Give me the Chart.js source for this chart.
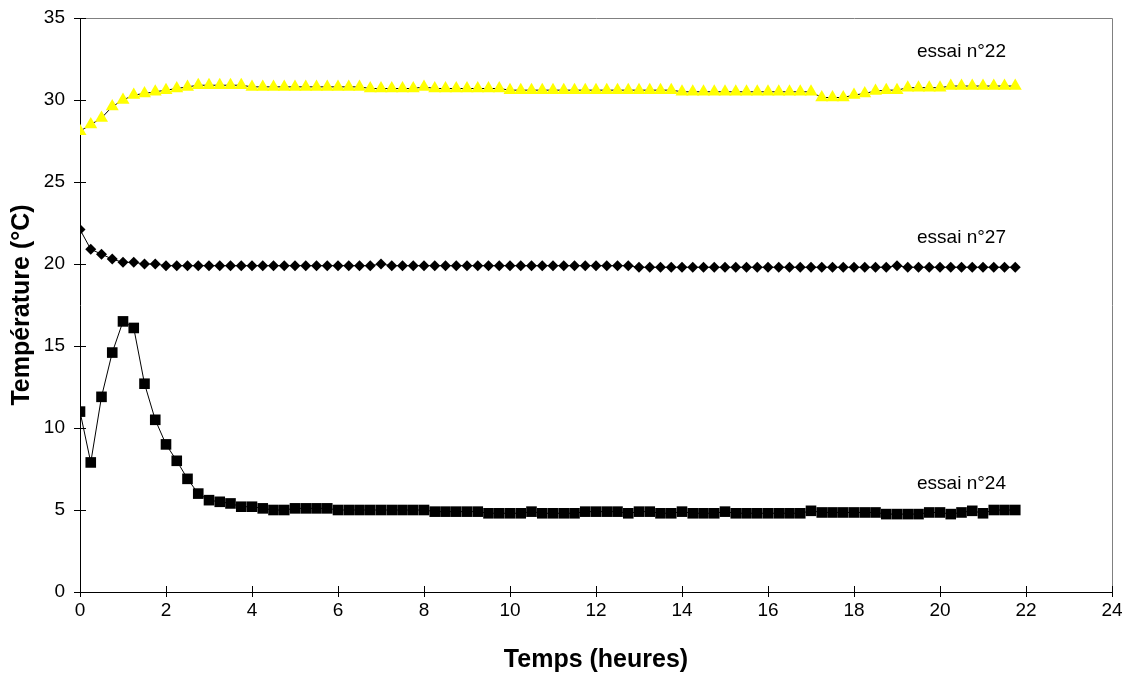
<!DOCTYPE html>
<html>
<head>
<meta charset="utf-8">
<script src="https://cdn.jsdelivr.net/npm/chart.js"></script>
<style>
    html, body { margin: 0; padding: 0; background: #fff; }
    #cadre { position: relative; width: 1133px; height: 685px; }
</style>
</head>
<body>
<div id="cadre"><canvas id="graphique"></canvas></div>
<script>
// Températures mesurées pendant les essais n°22, n°24 et n°27 (pas de 15 min).

var temps = [0, 0.25, 0.5, 0.75, 1, 1.25, 1.5, 1.75, 2, 2.25, 2.5, 2.75,
    3, 3.25, 3.5, 3.75, 4, 4.25, 4.5, 4.75, 5, 5.25, 5.5, 5.75,
    6, 6.25, 6.5, 6.75, 7, 7.25, 7.5, 7.75, 8, 8.25, 8.5, 8.75,
    9, 9.25, 9.5, 9.75, 10, 10.25, 10.5, 10.75, 11, 11.25, 11.5, 11.75,
    12, 12.25, 12.5, 12.75, 13, 13.25, 13.5, 13.75, 14, 14.25, 14.5, 14.75,
    15, 15.25, 15.5, 15.75, 16, 16.25, 16.5, 16.75, 17, 17.25, 17.5, 17.75,
    18, 18.25, 18.5, 18.75, 19, 19.25, 19.5, 19.75, 20, 20.25, 20.5, 20.75,
    21, 21.25, 21.5, 21.75];

var essai22 = [28.1, 28.5, 28.9, 29.6, 30.0, 30.3, 30.4, 30.5, 30.6, 30.7, 30.8, 30.9,
    30.9, 30.9, 30.9, 30.9, 30.8, 30.8, 30.8, 30.8, 30.8, 30.8, 30.8, 30.8,
    30.8, 30.8, 30.8, 30.7, 30.7, 30.7, 30.7, 30.7, 30.8, 30.7, 30.7, 30.7,
    30.7, 30.7, 30.7, 30.7, 30.6, 30.6, 30.6, 30.6, 30.6, 30.6, 30.6, 30.6,
    30.6, 30.6, 30.6, 30.6, 30.6, 30.6, 30.6, 30.6, 30.5, 30.5, 30.5, 30.5,
    30.5, 30.5, 30.5, 30.5, 30.5, 30.5, 30.5, 30.5, 30.5, 30.15, 30.15, 30.15,
    30.3, 30.4, 30.55, 30.6, 30.6, 30.75, 30.75, 30.75, 30.75, 30.85, 30.85, 30.85,
    30.85, 30.85, 30.85, 30.85];

var essai27 = [22.1, 20.9, 20.6, 20.3, 20.1, 20.1, 20.0, 20.0, 19.9, 19.9, 19.9, 19.9,
    19.9, 19.9, 19.9, 19.9, 19.9, 19.9, 19.9, 19.9, 19.9, 19.9, 19.9, 19.9,
    19.9, 19.9, 19.9, 19.9, 20.0, 19.9, 19.9, 19.9, 19.9, 19.9, 19.9, 19.9,
    19.9, 19.9, 19.9, 19.9, 19.9, 19.9, 19.9, 19.9, 19.9, 19.9, 19.9, 19.9,
    19.9, 19.9, 19.9, 19.9, 19.8, 19.8, 19.8, 19.8, 19.8, 19.8, 19.8, 19.8,
    19.8, 19.8, 19.8, 19.8, 19.8, 19.8, 19.8, 19.8, 19.8, 19.8, 19.8, 19.8,
    19.8, 19.8, 19.8, 19.8, 19.9, 19.8, 19.8, 19.8, 19.8, 19.8, 19.8, 19.8,
    19.8, 19.8, 19.8, 19.8];

var essai24 = [11.0, 7.9, 11.9, 14.6, 16.5, 16.1, 12.7, 10.5, 9.0, 8.0, 6.9, 6.0,
    5.6, 5.5, 5.4, 5.2, 5.2, 5.1, 5.0, 5.0, 5.1, 5.1, 5.1, 5.1,
    5.0, 5.0, 5.0, 5.0, 5.0, 5.0, 5.0, 5.0, 5.0, 4.9, 4.9, 4.9,
    4.9, 4.9, 4.8, 4.8, 4.8, 4.8, 4.9, 4.8, 4.8, 4.8, 4.8, 4.9,
    4.9, 4.9, 4.9, 4.8, 4.9, 4.9, 4.8, 4.8, 4.9, 4.8, 4.8, 4.8,
    4.9, 4.8, 4.8, 4.8, 4.8, 4.8, 4.8, 4.8, 4.95, 4.85, 4.85, 4.85,
    4.85, 4.85, 4.85, 4.75, 4.75, 4.75, 4.75, 4.85, 4.85, 4.75, 4.85, 4.95,
    4.8, 5.0, 5.0, 5.0];

var nomsEssais = ['essai n°22', 'essai n°27', 'essai n°24'];

// Position des étiquettes (en unités des axes : heures, °C).
var etiquettesX = [20.5, 20.5, 20.5];
var etiquettesY = [32.95, 21.6, 6.6];

var police = "'Liberation Sans', Arial, sans-serif";

// Construit les points {x, y} d'une série.
function points(valeurs) {
    var res = [];
    for (var i = 0; i < temps.length; i++) {
        res.push({ x: temps[i], y: valeurs[i] });
    }
    return res;
}

// Dessine le cadre gris, les graduations en croix et les étiquettes des essais.
var decor = {
    id: 'decor',
    afterDatasetsDraw: function (chart) {
        var ctx = chart.ctx;
        var zone = chart.chartArea;
        var sx = chart.scales.x;
        var sy = chart.scales.y;

        ctx.save();
        ctx.strokeStyle = '#808080';
        ctx.lineWidth = 1;
        ctx.beginPath();
        ctx.moveTo(zone.left, zone.top + 0.5);
        ctx.lineTo(zone.right + 0.5, zone.top + 0.5);
        ctx.lineTo(zone.right + 0.5, zone.bottom);
        ctx.stroke();

        ctx.strokeStyle = '#000';
        ctx.beginPath();
        sy.ticks.forEach(function (t) {
            var py = Math.round(sy.getPixelForValue(t.value)) + 0.5;
            ctx.moveTo(zone.left - 6, py);
            ctx.lineTo(zone.left + 6, py);
        });
        sx.ticks.forEach(function (t) {
            var px = Math.round(sx.getPixelForValue(t.value)) + 0.5;
            ctx.moveTo(px, zone.bottom - 6);
            ctx.lineTo(px, zone.bottom + 5);
        });
        ctx.stroke();

        ctx.fillStyle = '#000';
        ctx.font = '19px ' + police;
        ctx.textAlign = 'center';
        ctx.textBaseline = 'middle';
        for (var i = 0; i < nomsEssais.length; i++) {
            ctx.fillText(nomsEssais[i], sx.getPixelForValue(etiquettesX[i]),
                sy.getPixelForValue(etiquettesY[i]));
        }
        ctx.restore();
    }
};

function serie(nom, valeurs, forme, rayon, couleur) {
    return {
        label: nom,
        data: points(valeurs),
        borderColor: '#000',
        borderWidth: 1,
        tension: 0,
        pointStyle: forme,
        pointRadius: rayon,
        pointHoverRadius: rayon,
        pointBackgroundColor: couleur,
        pointBorderColor: couleur,
        pointBorderWidth: 0
    };
}

var graphique = new Chart(document.getElementById('graphique'), {
    type: 'line',
    data: {
        datasets: [
            serie(nomsEssais[0], essai22, 'triangle', 7.5, '#ffff00'),
            serie(nomsEssais[1], essai27, 'rectRot', 5.5, '#000'),
            serie(nomsEssais[2], essai24, 'rect', 7.5, '#000')
        ]
    },
    options: {
        responsive: true,
        maintainAspectRatio: false,
        animation: false,
        layout: { padding: { left: 0, right: 21, top: 18, bottom: 0 } },
        plugins: {
            legend: { display: false },
            tooltip: { enabled: false }
        },
        scales: {
            x: {
                type: 'linear',
                min: 0,
                max: 24,
                afterFit: function (s) { s.height = 93; },
                ticks: { stepSize: 2, padding: 7, color: '#000', font: { family: police, size: 19 } },
                grid: { drawOnChartArea: false, drawTicks: false },
                border: { color: '#000', width: 1 },
                title: {
                    display: true,
                    text: 'Temps (heures)',
                    color: '#000',
                    font: { family: police, size: 25, weight: 'bold' },
                    padding: { top: 0, bottom: 10 }
                }
            },
            y: {
                min: 0,
                max: 35,
                afterFit: function (s) {
                    s.width = 80;
                    s.paddingTop = 0;
                    s.paddingBottom = 0;
                },
                ticks: { stepSize: 5, padding: 15, color: '#000', font: { family: police, size: 19 } },
                grid: { drawOnChartArea: false, drawTicks: false },
                border: { color: '#000', width: 1 },
                title: {
                    display: true,
                    text: 'Température (°C)',
                    color: '#000',
                    font: { family: police, size: 25, weight: 'bold' },
                    padding: { top: 7, bottom: 0 }
                }
            }
        }
    },
    plugins: [decor]
});
</script>
</body>
</html>
